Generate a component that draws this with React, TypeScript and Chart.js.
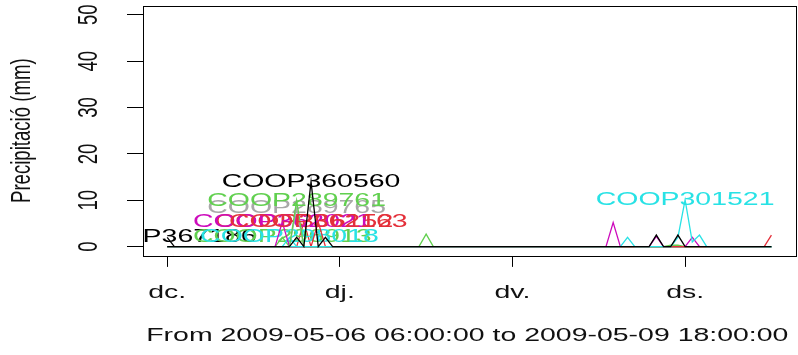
import React, { useEffect, useRef } from 'react';
import { Chart, registerables } from 'chart.js';

Chart.register(...registerables);

// ---- axis data ----
const X_TICKS = [0, 24, 48, 72]; // hours after 2009-05-06 06:00
const X_TICK_LABELS = ['dc.', 'dj.', 'dv.', 'ds.'];
const Y_TICKS = [0, 10, 20, 30, 40, 50];
const X_TITLE = 'From 2009-05-06 06:00:00 to 2009-05-09 18:00:00';
const Y_TITLE = 'Precipitació (mm)';

// ---- series: [hour, precipitation mm] ----
const coop367186 = [[0, 2], [1, 0], [84, 0]];
const coop366152 = [[0, 0], [18, 0], [19, 5.3], [20, 0], [84, 0]];
const coop296913 = [[0, 0], [15, 0], [16, 2], [17, 0], [69, 0], [70, 0.3], [71, 0.3], [72, 0], [84, 0]];
const coop298018 = [[0, 0], [16, 0], [17, 2], [18, 0], [84, 0]];
const coop362021 = [[0, 0], [15, 0], [16, 5.3], [17, 0], [61, 0], [62, 5.2], [63, 0], [67, 0], [68, 2.2], [69, 0], [72, 0], [73, 2], [74, 0], [84, 0]];
const coop289765 = [[0, 0], [17, 0], [18, 8.3], [19, 0], [84, 0]];
const coop289761 = [[0, 0], [17, 0], [18, 9.9], [19, 0], [35, 0], [36, 2.7], [37, 0], [84, 0]];
const coop362163 = [[0, 0], [20, 0], [21, 5.3], [22, 0], [83, 0], [84, 2.5]];
const coop301521 = [[0, 0], [63, 0], [64, 2], [65, 0], [70, 0], [71, 2], [72, 10.1], [73, 1], [74, 2.5], [75, 0], [84, 0]];
const coop360560 = [[0, 0], [17, 0], [18, 2], [19, 0], [20, 14], [21, 0], [22, 2], [23, 0], [67, 0], [68, 2.5], [69, 0], [70, 0], [71, 2.5], [72, 0], [84, 0]];

const STATION_NAMES = ['COOP367186', 'COOP366152', 'COOP296913', 'COOP298018', 'COOP362021', 'COOP289765', 'COOP289761', 'COOP362163', 'COOP301521', 'COOP360560'];
const STATION_SERIES = [coop367186, coop366152, coop296913, coop298018, coop362021, coop289765, coop289761, coop362163, coop301521, coop360560];
const STATION_COLORS = ['#000000', '#E4303A', '#61D04F', '#28E2E5', '#CD0BBC', '#A8A8A8', '#61D04F', '#E4303A', '#28E2E5', '#000000'];

const FONT = '18.6px "Liberation Sans", Arial, Helvetica, sans-serif';
const SX = 1.53; // horizontal stretch of the original picture

function drawText(ctx: CanvasRenderingContext2D, text: string, x: number, y: number, color: string, rotate = false) {
  ctx.save();
  ctx.translate(x, y);
  ctx.scale(SX, 1);
  if (rotate) ctx.rotate(-Math.PI / 2);
  ctx.font = FONT;
  ctx.fillStyle = color;
  ctx.textAlign = 'center';
  ctx.textBaseline = 'middle';
  ctx.fillText(text, 0, 0);
  ctx.restore();
}

const rPlot = {
  id: 'rPlot',
  afterDatasetDraw(chart: any, args: any) {
    const ds = chart.data.datasets[args.index];
    const pts = ds.data as { x: number; y: number }[];
    let best = pts[0];
    for (const p of pts) if (p.y > best.y) best = p;
    const xs = chart.scales.x;
    const ys = chart.scales.y;
    const a = chart.chartArea;
    const ctx = chart.ctx as CanvasRenderingContext2D;
    ctx.save();
    ctx.beginPath();
    ctx.rect(a.left, a.top, a.right - a.left, a.bottom - a.top);
    ctx.clip();
    drawText(ctx, ds.label, xs.getPixelForValue(best.x), ys.getPixelForValue(best.y), ds.borderColor);
    ctx.restore();
  },
  afterDraw(chart: any) {
    const ctx = chart.ctx as CanvasRenderingContext2D;
    const a = chart.chartArea;
    const xs = chart.scales.x;
    const ys = chart.scales.y;
    ctx.save();
    ctx.strokeStyle = '#000';
    ctx.lineWidth = 1;
    ctx.strokeRect(Math.round(a.left) + 0.5, Math.round(a.top) + 0.5, Math.round(a.right - a.left), Math.round(a.bottom - a.top));
    ctx.restore();
    X_TICKS.forEach((v, i) => drawText(ctx, X_TICK_LABELS[i], xs.getPixelForValue(v), a.bottom + 37, '#111'));
    Y_TICKS.forEach((v) => drawText(ctx, String(v), a.left - 54, ys.getPixelForValue(v), '#111', true));
    drawText(ctx, X_TITLE, (a.left + a.right) / 2 - 2, a.bottom + 80, '#111');
    drawText(ctx, Y_TITLE, a.left - 121, (a.top + a.bottom) / 2, '#111', true);
  },
};

export default function App() {
  const ref = useRef<HTMLCanvasElement | null>(null);
  useEffect(() => {
    document.body.style.margin = '0';
    const n = STATION_SERIES.length;
    const chart = new Chart(ref.current as HTMLCanvasElement, {
      type: 'line',
      data: {
        datasets: STATION_SERIES.map((s, i) => ({
          label: STATION_NAMES[i],
          data: s.map(([h, v]) => ({ x: h, y: v })),
          borderColor: STATION_COLORS[i],
          backgroundColor: STATION_COLORS[i],
          borderWidth: 1.3,
          pointRadius: 0,
          tension: 0,
          fill: false,
          order: n - i,
        })),
      },
      options: {
        animation: false,
        responsive: false,
        devicePixelRatio: 1,
        layout: { padding: { left: 0, top: 5.5, right: 2.4, bottom: 0 } },
        plugins: { legend: { display: false }, tooltip: { enabled: false } },
        scales: {
          x: {
            type: 'linear',
            min: -3.36,
            max: 87.36,
            afterBuildTicks: (s: any) => { s.ticks = X_TICKS.map((v) => ({ value: v })); },
            afterFit: (s: any) => { s.height = 99.1; },
            ticks: { display: false },
            grid: { drawOnChartArea: false, drawTicks: true, tickLength: 11, color: '#000', lineWidth: 1 },
            border: { display: false },
          },
          y: {
            type: 'linear',
            min: -2,
            max: 52,
            afterBuildTicks: (s: any) => { s.ticks = Y_TICKS.map((v) => ({ value: v })); },
            afterFit: (s: any) => { s.width = 143; },
            ticks: { display: false },
            grid: { drawOnChartArea: false, drawTicks: true, tickLength: 16, color: '#000', lineWidth: 1 },
            border: { display: false },
          },
        },
      } as any,
      plugins: [rPlot],
    });
    return () => chart.destroy();
  }, []);
  return (
    <div style={{ width: 798, height: 355 }}>
      <canvas ref={ref} width={798} height={355} style={{ display: 'block' }} />
    </div>
  );
}
